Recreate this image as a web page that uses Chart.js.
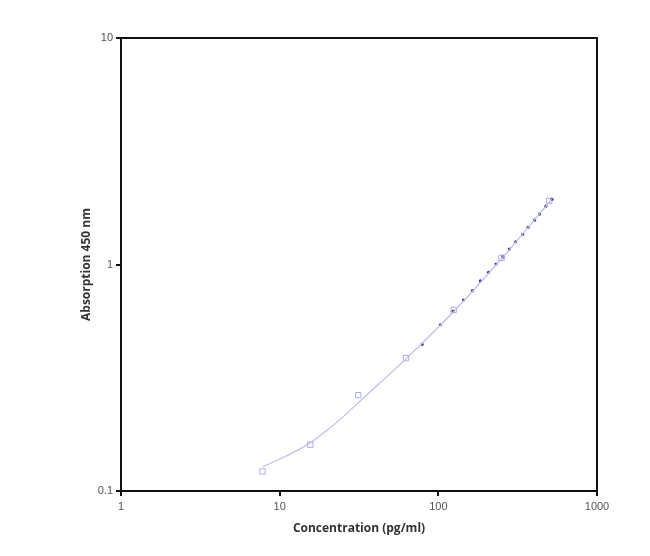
<!DOCTYPE html>
<html>
<head>
<meta charset="utf-8">
<script src="https://cdn.jsdelivr.net/npm/chart.js@4"></script>
<style>
  html, body { margin: 0; padding: 0; background: #fff; }
  #wrap { width: 650px; height: 556px; }
</style>
</head>
<body>
<div id="wrap"><canvas id="chart"></canvas></div>
<script>
// standards (hollow squares)
const stdConc = [7.8, 15.6, 31.25, 62.5, 125, 250, 500];
const stdAbs = [0.122, 0.16, 0.265, 0.386, 0.63, 1.07, 1.91];

// sample points along the curve (small dots)
const dotConc = [79, 103, 124, 144, 164, 184, 207, 231, 255, 280, 307, 340, 368, 404, 435, 476, 520];
const dotAbs = [0.444, 0.542, 0.623, 0.697, 0.766, 0.846, 0.924, 1.005, 1.08, 1.17, 1.26, 1.36, 1.46, 1.57, 1.67, 1.81, 1.94];

// fitted curve
const fitConc = [7.85, 10.5, 13, 15.6, 20, 25, 31.25, 62.5, 125, 250, 520];
const fitAbs = [0.128, 0.1405, 0.1515, 0.1635, 0.186, 0.212, 0.245, 0.383, 0.62, 1.06, 1.946];

const xTicks = [1, 10, 100, 1000];
const yTicks = [0.1, 1, 10];

const toPts = (xs, ys) => xs.map((x, i) => ({ x: x, y: ys[i] }));

const frame = {
  id: 'frame',
  afterDatasetsDraw(chart) {
    const a = chart.chartArea;
    const ctx = chart.ctx;
    ctx.save();
    ctx.strokeStyle = '#111';
    ctx.lineWidth = 2;
    ctx.strokeRect(a.left, a.top, a.right - a.left, a.bottom - a.top);
    ctx.restore();
  }
};

new Chart(document.getElementById('chart'), {
  type: 'scatter',
  data: {
    datasets: [
      {
        label: 'fit',
        data: toPts(fitConc, fitAbs),
        showLine: true,
        cubicInterpolationMode: 'monotone',
        borderColor: '#bdbdf0',
        borderWidth: 1.2,
        pointRadius: 0
      },
      {
        label: 'samples',
        data: toPts(dotConc, dotAbs),
        pointStyle: 'circle',
        pointRadius: 1.6,
        backgroundColor: '#3b3b86',
        borderColor: '#3b3b86',
        borderWidth: 0
      },
      {
        label: 'standards',
        data: toPts(stdConc, stdAbs),
        pointStyle: 'rect',
        pointRadius: 3.8,
        backgroundColor: 'rgba(0,0,0,0)',
        borderColor: '#acacea',
        borderWidth: 1
      }
    ]
  },
  options: {
    responsive: true,
    maintainAspectRatio: false,
    animation: false,
    layout: { padding: { left: 75, right: 53, top: 38, bottom: 16 } },
    plugins: { legend: { display: false }, tooltip: { enabled: false } },
    scales: {
      x: {
        type: 'logarithmic',
        min: 1,
        max: 1000,
        afterBuildTicks: axis => { axis.ticks = xTicks.map(v => ({ value: v })); },
        afterFit: axis => { axis.height = 49; },
        border: { display: false },
        grid: { drawOnChartArea: false, drawTicks: true, tickLength: 5, color: '#111', lineWidth: 2 },
        ticks: {
          padding: 4,
          color: '#555',
          font: { family: 'Liberation Sans', size: 11 },
          maxRotation: 0,
          callback: v => String(v)
        },
        title: {
          display: true,
          text: 'Concentration (pg/ml)',
          color: '#333',
          font: { family: 'Open Sans', size: 12, weight: 'bold' },
          padding: { top: 4, bottom: 4 }
        }
      },
      y: {
        type: 'logarithmic',
        min: 0.1,
        max: 10,
        afterBuildTicks: axis => { axis.ticks = yTicks.map(v => ({ value: v })); },
        afterFit: axis => { axis.width = 46; },
        border: { display: false },
        grid: { drawOnChartArea: false, drawTicks: true, tickLength: 5, color: '#111', lineWidth: 2 },
        ticks: {
          padding: 3,
          color: '#555',
          font: { family: 'Liberation Sans', size: 11 },
          callback: v => String(v)
        },
        title: {
          display: true,
          text: 'Absorption 450 nm',
          color: '#333',
          font: { family: 'Open Sans', size: 12, weight: 'bold' },
          padding: { top: 4, bottom: 4 }
        }
      }
    }
  },
  plugins: [frame]
});
</script>
</body>
</html>
